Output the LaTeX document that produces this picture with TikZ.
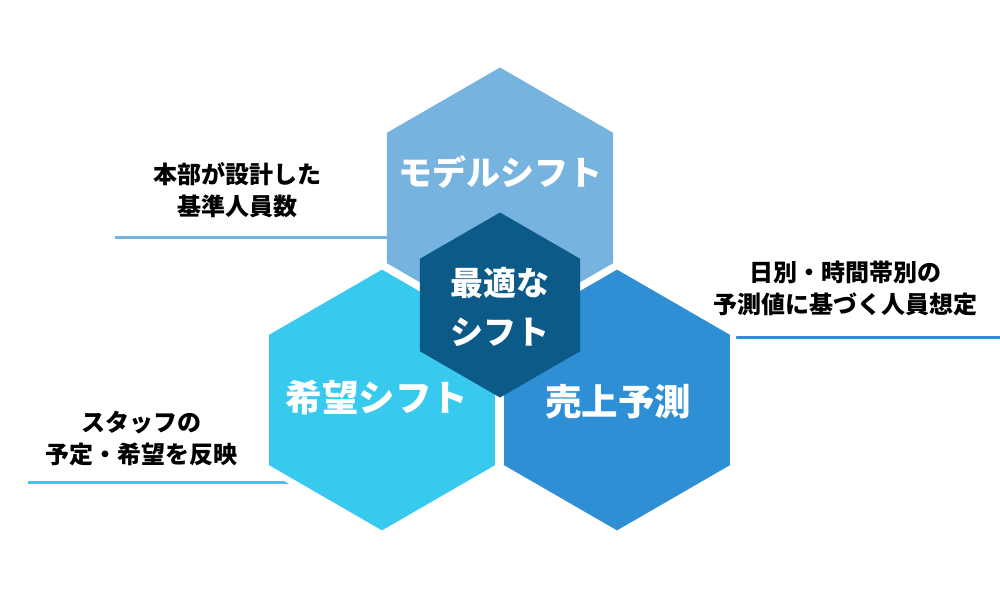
\documentclass[tikz,border=0pt]{standalone}
\usepackage{fontspec}
\setmainfont{Noto Sans CJK JP}
\usetikzlibrary{shapes.geometric}
\definecolor{hexTop}{HTML}{76B3DE}
\definecolor{hexLeft}{HTML}{38C9EF}
\definecolor{hexRight}{HTML}{2E8FD4}
\definecolor{hexCenter}{HTML}{0B5A87}
\begin{document}
\begin{tikzpicture}[x=1pt,y=-1pt,
  hexa/.style={regular polygon, regular polygon sides=6, shape border rotate=30, inner sep=0pt, outer sep=0pt},
  hextxt/.style={text=white, font=\bfseries\fontsize{34}{49}\selectfont, align=center, inner sep=0pt},
  bigtxt/.style={hextxt, font=\bfseries\fontsize{36.5}{49}\selectfont},
  lbl/.style={text=black, font=\bfseries\fontsize{24}{32}\selectfont, align=center, inner sep=0pt},
  leader/.style={line width=3pt}]
\useasboundingbox (0,0) rectangle (1000,600);
% leader line end points
\coordinate (la1) at (115,237);
\coordinate (la2) at (395,237);
\coordinate (lb1) at (28,482);
\coordinate (lb2) at (320,482);
\coordinate (lc1) at (725,337);
\coordinate (lc2) at (1000,337);
% top hexagon
\node[hexa, fill=hexTop, minimum size=261] (top) at (500,198) {};
\draw[leader, draw=hexTop] (la1) -- (la2);
\draw[leader, draw=hexLeft] (lb1) -- (lb2);
\draw[leader, draw=hexRight] (lc1) -- (lc2);
% lower hexagons
\node[hexa, fill=hexLeft, draw=white, line width=6pt, minimum size=268] (left) at (382,400) {};
\node[hexa, fill=hexRight, draw=white, line width=6pt, minimum size=268] (right) at (617,400) {};
% centre hexagon
\node[hexa, fill=hexCenter, minimum size=185] (center) at (500,305) {};
% texts
\node[hextxt] (ttop) at (500,172) {モデルシフト};
\node[hextxt, font=\bfseries\fontsize{33}{49}\selectfont] (tcenter) at (500,307) {最適な\\シフト};
\node[bigtxt] (tleft) at (377,398) {希望シフト};
\node[bigtxt] (tright) at (618,402) {売上予測};
\node[lbl] (lbla) at (237,190) {本部が設計した\\基準人員数};
\node[lbl] (lblc) at (845,288) {日別・時間帯別の\\予測値に基づく人員想定};
\node[lbl] (lblb) at (141,439) {スタッフの\\予定・希望を反映};
\end{tikzpicture}
\end{document}
